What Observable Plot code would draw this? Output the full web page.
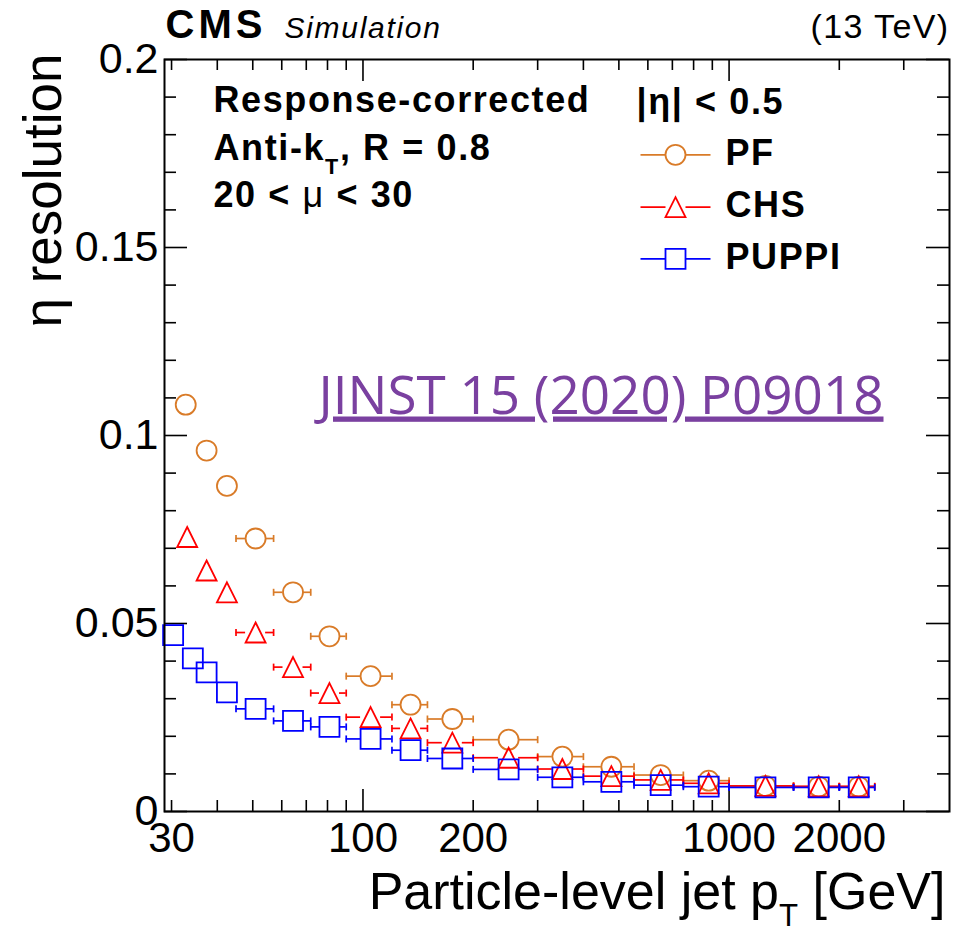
<!DOCTYPE html>
<html>
<head>
<meta charset="utf-8">
<script src="https://cdn.jsdelivr.net/npm/d3@7"></script>
<script src="https://cdn.jsdelivr.net/npm/@observablehq/plot@0.6"></script>
<style>
  body { margin: 0; background: #fff; }
</style>
</head>
<body>
<div id="chart"></div>
<script>
// ---------------- data ----------------
const xDomain = [28.7, 4000];
const yDomain = [0, 0.2];

// PF (open circles)
const pfX  = [32.8, 37.4, 42.5, 50.9, 64.4, 81.0, 104.9, 134.9, 175.4, 249.9, 350.4, 476.9, 650.4, 879.6, 1257, 1757, 2260];
const pfY  = [0.1082, 0.0960, 0.0866, 0.0726, 0.0583, 0.0466, 0.0360, 0.0284, 0.0246, 0.0191, 0.0146, 0.0119, 0.0097, 0.0082, 0.0068, 0.0066, 0.0066];
const pfLo = [31, 35, 40, 45, 57, 72, 90, 120, 150, 200, 300, 400, 550, 750, 1000, 1500, 2000];
const pfHi = [35, 40, 45, 57, 72, 90, 120, 150, 200, 300, 400, 550, 750, 1000, 1500, 2000, 2500];

// CHS (open triangles)
const chsX  = [33.1, 37.4, 42.5, 50.9, 64.4, 81.0, 104.9, 134.9, 175.4, 249.9, 350.4, 476.9, 650.4, 879.6, 1257, 1757, 2260];
const chsY  = [0.0730, 0.0641, 0.0583, 0.0476, 0.0384, 0.0315, 0.0251, 0.0221, 0.0183, 0.0143, 0.0113, 0.0094, 0.0084, 0.0075, 0.0068, 0.0067, 0.0067];
const chsLo = [31, 35, 40, 45, 57, 72, 90, 120, 150, 200, 300, 400, 550, 750, 1000, 1500, 2000];
const chsHi = [35, 40, 45, 57, 72, 90, 120, 150, 200, 300, 400, 550, 750, 1000, 1500, 2000, 2500];

// PUPPI (open squares)
const puppiX  = [30.3, 34.3, 37.4, 42.5, 50.9, 64.4, 81.0, 104.9, 134.9, 175.4, 249.9, 350.4, 476.9, 650.4, 879.6, 1257, 1757, 2260];
const puppiY  = [0.0469, 0.0407, 0.0370, 0.0317, 0.0273, 0.0241, 0.0225, 0.0193, 0.0163, 0.0141, 0.0112, 0.0091, 0.0079, 0.0070, 0.0066, 0.0064, 0.0064, 0.0064];
const puppiLo = [29, 32, 35, 40, 45, 57, 72, 90, 120, 150, 200, 300, 400, 550, 750, 1000, 1500, 2000];
const puppiHi = [32, 35, 40, 45, 57, 72, 90, 120, 150, 200, 300, 400, 550, 750, 1000, 1500, 2000, 2500];

// axis ticks
const yTickValues = [0, 0.05, 0.1, 0.15, 0.2];
const yTickLabels = ["0", "0.05", "0.1", "0.15", "0.2"];
const yMinorTicks = [0.01, 0.02, 0.03, 0.04, 0.06, 0.07, 0.08, 0.09, 0.11, 0.12, 0.13, 0.14, 0.16, 0.17, 0.18, 0.19];
const xTickValues = [30, 100, 200, 1000, 2000];
const xTickLabels = ["30", "100", "200", "1000", "2000"];
const xMajorTicks = [100, 1000];
const xMinorTicks = [30, 40, 50, 60, 70, 80, 90, 200, 300, 400, 500, 600, 700, 800, 900, 2000, 3000];

const seriesNames = ["PF", "CHS", "PUPPI"];
const infoLines = ["Response-corrected", "Anti-k_{T}, R = 0.8", "20 < ~{μ} < 30"];
const etaCut = "|η| < 0.5";
const yTitle = "η resolution";
const xTitle = "Particle-level jet p_{T} [GeV]";
const reference = "JINST 15 (2020) P09018";

// ---------------- layout ----------------
const W = 968, H = 933, mL = 164, mR = 19, mT = 59, mB = 122;
const frameW = W - mL - mR, frameH = H - mT - mB;
const font = "'Liberation Sans', Arial, Helvetica, sans-serif";
const colors = {PF: "#d97b28", CHS: "#ff0000", PUPPI: "#0000ff"};

// custom ROOT-like symbols (centred box of half-size r)
const rOf = s => Math.sqrt(s / Math.PI);
const symCircle = {draw(c, s) { const r = rOf(s); c.moveTo(r, 0); c.arc(0, 0, r, 0, 2 * Math.PI); c.closePath(); }};
const symTriangle = {draw(c, s) { const r = rOf(s); c.moveTo(0, -r); c.lineTo(r, r); c.lineTo(-r, r); c.closePath(); }};
const symSquare = {draw(c, s) { const r = rOf(s); c.rect(-r, -r, 2 * r, 2 * r); }};
const symCap = {draw(c, s) { const r = rOf(s); c.moveTo(0, -r); c.lineTo(0, r); }};
const symLegendLine = {draw(c, s) { const r = rOf(s); c.moveTo(-r, 0); c.lineTo(-10, 0); c.moveTo(10, 0); c.lineTo(r, 0); }};

const series = [
  {name: "PF", symbol: symCircle, x: pfX, y: pfY, lo: pfLo, hi: pfHi},
  {name: "CHS", symbol: symTriangle, x: chsX, y: chsY, lo: chsLo, hi: chsHi},
  {name: "PUPPI", symbol: symSquare, x: puppiX, y: puppiY, lo: puppiLo, hi: puppiHi}
];

const R = 10; // marker half-size in px
const pxPerDecade = frameW / Math.log10(xDomain[1] / xDomain[0]);
const gap = Math.pow(10, R / pxPerDecade);
const tol = Math.pow(10, 3 / pxPerDecade);

const marks = [];

// ticks (inside the frame, ROOT style) on all four sides
const tickStyle = {stroke: "black", strokeWidth: 1.6};
marks.push(
  Plot.ruleY(yMinorTicks, {...tickStyle, insetRight: frameW - 12}),
  Plot.ruleY(yMinorTicks, {...tickStyle, insetLeft: frameW - 12}),
  Plot.ruleY(yTickValues, {...tickStyle, insetRight: frameW - 23}),
  Plot.ruleY(yTickValues, {...tickStyle, insetLeft: frameW - 23}),
  Plot.ruleX(xMinorTicks, {...tickStyle, insetTop: frameH - 11}),
  Plot.ruleX(xMinorTicks, {...tickStyle, insetBottom: frameH - 11}),
  Plot.ruleX(xMajorTicks, {...tickStyle, insetTop: frameH - 22}),
  Plot.ruleX(xMajorTicks, {...tickStyle, insetBottom: frameH - 22})
);

// data: x error bars (with gap around marker) + caps + markers
for (const s of series) {
  const color = colors[s.name];
  const pts = s.x.map((x, i) => ({x, y: s.y[i], lo: s.lo[i], hi: s.hi[i]}));
  const segs = [], caps = [];
  for (const p of pts) {
    const a = p.x / gap, b = p.x * gap;
    if (p.lo < a / tol) { segs.push({x1: p.lo, x2: a, y: p.y}); caps.push({x: p.lo, y: p.y}); }
    if (p.hi > b * tol) { segs.push({x1: b, x2: p.hi, y: p.y}); caps.push({x: p.hi, y: p.y}); }
  }
  marks.push(
    Plot.ruleY(segs, {y: "y", x1: "x1", x2: "x2", stroke: color, strokeWidth: 1.7}),
    Plot.dot(caps, {x: "x", y: "y", symbol: symCap, r: 3.5, stroke: color, strokeWidth: 1.7, fill: "none"}),
    Plot.dot(pts, {x: "x", y: "y", symbol: s.symbol, r: R, stroke: color, strokeWidth: 1.8, fill: "none"})
  );
}

marks.push(Plot.frame({stroke: "black", strokeWidth: 2}));

// axes labels
marks.push(
  Plot.axisY(yTickValues, {tickSize: 0, tickPadding: 6, fontSize: 43, label: null,
    tickFormat: d => yTickLabels[yTickValues.indexOf(d)]}),
  Plot.axisX(xTickValues, {tickSize: 0, tickPadding: 11, fontSize: 42, label: null,
    tickFormat: d => xTickLabels[xTickValues.indexOf(d)]})
);

// axis titles
marks.push(
  Plot.text([yTitle], {frameAnchor: "top-left", dx: -104, dy: -6, rotate: -90,
    textAnchor: "end", lineAnchor: "bottom", fontSize: 53}),
  Plot.text([xTitle], {frameAnchor: "bottom-right", dx: -4, dy: 97,
    textAnchor: "end", lineAnchor: "bottom", fontSize: 52})
);

// header
marks.push(
  Plot.text(["CMS"], {frameAnchor: "top-left", dx: 1, dy: -22, textAnchor: "start", lineAnchor: "bottom",
    fontSize: 40, fontWeight: "bold"}),
  Plot.text(["Simulation"], {frameAnchor: "top-left", dx: 120, dy: -22, textAnchor: "start", lineAnchor: "bottom",
    fontSize: 30, fontStyle: "italic"}),
  Plot.text(["(13 TeV)"], {frameAnchor: "top-right", dx: 0, dy: -22, textAnchor: "end", lineAnchor: "bottom",
    fontSize: 34})
);

// info text
const infoDy = [52.7, 100.3, 147.7];
infoLines.forEach((t, i) => marks.push(
  Plot.text([t], {frameAnchor: "top-left", dx: 49, dy: infoDy[i], textAnchor: "start", lineAnchor: "bottom",
    fontSize: 36, fontWeight: "bold"})
));

// legend
marks.push(Plot.text([etaCut], {frameAnchor: "top-left", dx: 472, dy: 54, textAnchor: "start",
  lineAnchor: "bottom", fontSize: 36, fontWeight: "bold"}));
const legendSymDy = [95.3, 147.7, 199.3];
series.forEach((s, i) => {
  const color = colors[s.name];
  marks.push(
    Plot.dot([0], {frameAnchor: "top-left", dx: 511, dy: legendSymDy[i], symbol: symLegendLine, r: 35,
      stroke: color, strokeWidth: 1.7, fill: "none"}),
    Plot.dot([0], {frameAnchor: "top-left", dx: 511, dy: legendSymDy[i], symbol: s.symbol, r: R,
      stroke: color, strokeWidth: 1.8, fill: "none"}),
    Plot.text([seriesNames[i]], {frameAnchor: "top-left", dx: 561, dy: legendSymDy[i] + 10, textAnchor: "start",
      lineAnchor: "bottom", fontSize: 36, fontWeight: "bold"})
  );
});

// publication reference
marks.push(Plot.text([reference], {frameAnchor: "top-left", dx: 154, dy: 354,
  textAnchor: "start", lineAnchor: "bottom", fontSize: 53, fontFamily: "'Open Sans', sans-serif",
  fill: "#7a40a0"}));

const chart = Plot.plot({
  width: W, height: H,
  marginLeft: mL, marginRight: mR, marginTop: mT, marginBottom: mB,
  style: {fontFamily: font, fontSize: "14px", background: "white", overflow: "visible"},
  x: {type: "log", domain: xDomain},
  y: {type: "linear", domain: yDomain},
  marks
});
document.getElementById("chart").appendChild(chart);

// per-text letter spacing / decoration (keyed by text content)
const textStyle = new Map([
  ["CMS", "letter-spacing:4px"],
  ["Simulation", "letter-spacing:1.7px"],
  ["(13 TeV)", "letter-spacing:1.4px"],
  [etaCut, "letter-spacing:1.6px"],
  [reference, "text-decoration:underline;text-decoration-skip-ink:none"],
  ...infoLines.map(t => [t, "letter-spacing:1.6px"]),
  ...seriesNames.map(t => [t, "letter-spacing:1.6px"])
]);
const subShift = new Map([[xTitle, 0.33]]);
d3.select(chart).selectAll("text").each(function () {
  const st = textStyle.get(this.textContent);
  if (st) this.setAttribute("style", st);
});

// rich text: _{..} -> subscript, ~{..} -> normal weight
d3.select(chart).selectAll("text").each(function () {
  const t = this.textContent;
  if (!/[_~]\{/.test(t)) return;
  const fs = parseFloat(getComputedStyle(this).fontSize) || 36;
  const k = subShift.get(t) || 0.4;
  const parts = t.split(/([_~]\{[^}]*\})/).filter(p => p.length);
  const el = d3.select(this);
  el.text(null);
  let pending = 0;
  for (const p of parts) {
    const ts = el.append("tspan");
    if (p.startsWith("_{")) {
      const shift = fs * k;
      ts.text(p.slice(2, -1)).attr("font-size", fs * 0.6).attr("dy", shift);
      pending = -shift;
    } else {
      ts.text(p.startsWith("~{") ? p.slice(2, -1) : p);
      if (p.startsWith("~{")) ts.attr("font-weight", "normal");
      if (pending) { ts.attr("dy", pending); pending = 0; }
    }
  }
});
</script>
</body>
</html>
